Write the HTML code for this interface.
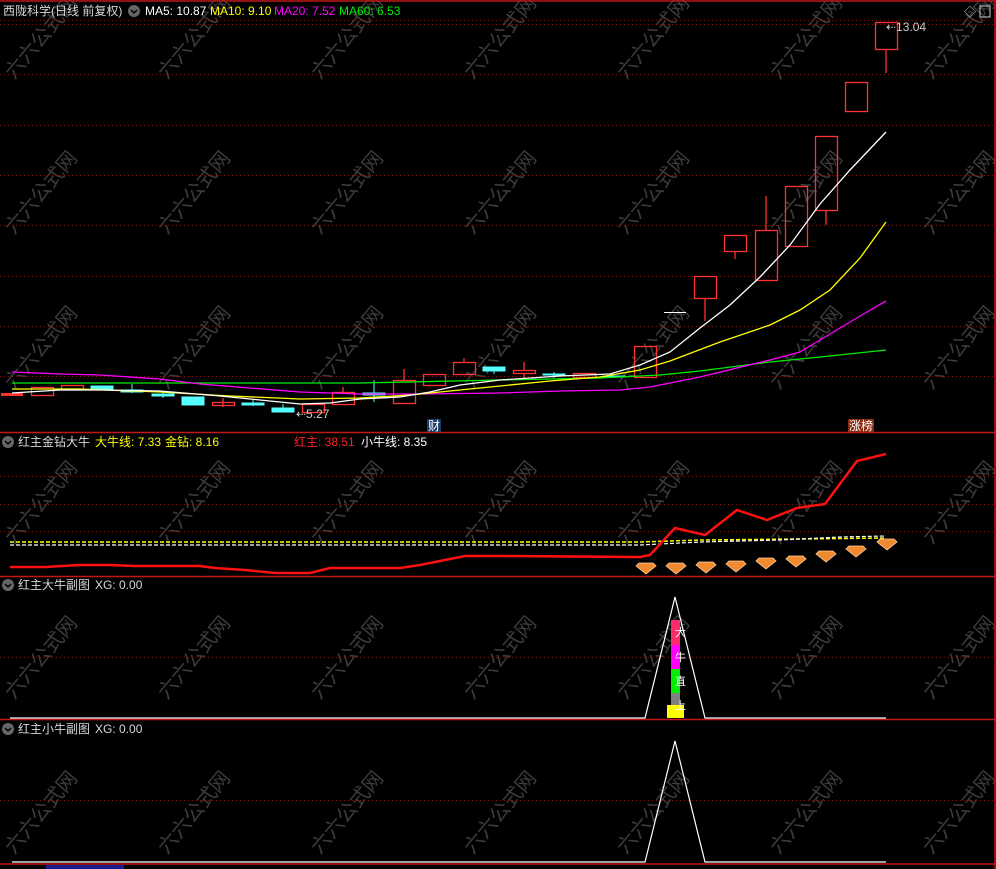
<!DOCTYPE html>
<html><head><meta charset="utf-8"><style>
html,body{margin:0;padding:0;background:#000;width:996px;height:869px;overflow:hidden}
svg{display:block}
text{font-family:"Liberation Sans","Noto Sans CJK SC",sans-serif}
</style></head><body>
<svg width="996" height="869" viewBox="0 0 996 869" xmlns="http://www.w3.org/2000/svg">
<rect width="996" height="869" fill="#000"/>
<!-- watermarks -->
<g fill="#3c3c3c" font-size="20" font-family="Noto Sans CJK SC,sans-serif">
<g id="wmrow">
<text transform="translate(14,80) rotate(-50)">六六公式网</text>
<text transform="translate(167,80) rotate(-50)">六六公式网</text>
<text transform="translate(320,80) rotate(-50)">六六公式网</text>
<text transform="translate(473,80) rotate(-50)">六六公式网</text>
<text transform="translate(626,80) rotate(-50)">六六公式网</text>
<text transform="translate(779,80) rotate(-50)">六六公式网</text>
<text transform="translate(932,80) rotate(-50)">六六公式网</text>
</g>
<use href="#wmrow" y="155"/><use href="#wmrow" y="310"/><use href="#wmrow" y="465"/><use href="#wmrow" y="620"/><use href="#wmrow" y="775"/>
</g>
<!-- grid -->
<g stroke="#8a1010" stroke-width="1" stroke-dasharray="1,3">
<line x1="0" y1="24.5" x2="994" y2="24.5"/><line x1="0" y1="74.5" x2="994" y2="74.5"/>
<line x1="0" y1="125.5" x2="994" y2="125.5"/><line x1="0" y1="175.5" x2="994" y2="175.5"/>
<line x1="0" y1="225.5" x2="994" y2="225.5"/><line x1="0" y1="276.5" x2="994" y2="276.5"/>
<line x1="0" y1="326.5" x2="994" y2="326.5"/><line x1="0" y1="376.5" x2="994" y2="376.5"/>
<line x1="0" y1="476.5" x2="994" y2="476.5"/><line x1="0" y1="504.5" x2="994" y2="504.5"/>
<line x1="0" y1="531.5" x2="994" y2="531.5"/><line x1="0" y1="657.5" x2="994" y2="657.5"/>
<line x1="0" y1="800.5" x2="994" y2="800.5"/>
</g>
<!-- panel borders -->
<g stroke="#c01818" stroke-width="1.5">
<line x1="0" y1="1" x2="996" y2="1"/>
<line x1="0" y1="432.5" x2="996" y2="432.5"/>
<line x1="0" y1="576.5" x2="996" y2="576.5"/>
<line x1="0" y1="719.5" x2="996" y2="719.5"/>
<line x1="0" y1="864" x2="996" y2="864"/>
<line x1="995" y1="0" x2="995" y2="869"/>
</g>
<!-- candles -->
<g stroke="#ff3232" fill="none" stroke-width="1.3">
<rect x="31.5" y="387.5" width="22" height="8"/>
<rect x="61.5" y="385.5" width="22" height="4"/>
<rect x="212.5" y="402.5" width="22" height="3"/><line x1="223" y1="398" x2="223" y2="407"/>
<rect x="302.5" y="404.5" width="22" height="8"/>
<rect x="332.5" y="392.5" width="22" height="12"/><line x1="343" y1="387" x2="343" y2="392"/>
<rect x="393.5" y="380.5" width="22" height="23"/><line x1="404" y1="369" x2="404" y2="380"/><line x1="404" y1="403" x2="404" y2="404"/>
<rect x="423.5" y="374.5" width="22" height="11"/>
<rect x="453.5" y="362.5" width="22" height="12"/><line x1="464" y1="358" x2="464" y2="362"/>
<rect x="513.5" y="370.5" width="22" height="3"/><line x1="524" y1="362" x2="524" y2="370"/><line x1="524" y1="374" x2="524" y2="379"/>
<rect x="573.5" y="373.5" width="22" height="4"/>
<rect x="634.5" y="346.5" width="22" height="31"/>
<rect x="694.5" y="276.5" width="22" height="22"/><line x1="705" y1="298" x2="705" y2="321"/>
<rect x="724.5" y="235.5" width="22" height="16"/><line x1="735" y1="251" x2="735" y2="259"/>
<rect x="755.5" y="230.5" width="22" height="50"/><line x1="766" y1="196" x2="766" y2="230"/>
<rect x="785.5" y="186.5" width="22" height="60"/>
<rect x="815.5" y="136.5" width="22" height="74"/><line x1="826" y1="210" x2="826" y2="225"/>
<rect x="845.5" y="82.5" width="22" height="29"/>
<rect x="875.5" y="22.5" width="22" height="27"/><line x1="886" y1="49" x2="886" y2="73"/>
</g>
<rect x="1" y="393" width="22" height="3" fill="#ff3232"/>
<g fill="#55ffff" stroke="#55ffff">
<rect x="91" y="386" width="22" height="4"/>
<rect x="121" y="390" width="22" height="2"/><line x1="132" y1="384" x2="132" y2="393"/>
<rect x="152" y="394" width="22" height="2"/><line x1="163" y1="392" x2="163" y2="398"/>
<rect x="182" y="397" width="22" height="8"/>
<rect x="242" y="403" width="22" height="2"/><line x1="253" y1="400" x2="253" y2="406"/>
<rect x="272" y="408" width="22" height="4"/><line x1="283" y1="404" x2="283" y2="408"/>
<rect x="363" y="393" width="22" height="2"/><line x1="374" y1="380" x2="374" y2="402"/>
<rect x="483" y="367" width="22" height="4"/><line x1="494" y1="371" x2="494" y2="374"/>
<rect x="543" y="374" width="22" height="1"/><line x1="554" y1="372" x2="554" y2="378"/>
<rect x="603" y="376" width="22" height="1"/>
</g>
<line x1="664" y1="312.5" x2="686" y2="312.5" stroke="#fff"/>
<!-- MA lines -->
<g fill="none" stroke-width="1.3">
<polyline stroke="#00ee00" points="12,383 360,383 500,380 600,378 660,375 700,371 770,362 830,356 886,350"/>
<polyline stroke="#ff00ff" points="12,372 60,374 100,375 160,379 200,384 250,388 300,392 360,394 420,394 500,393 560,391 620,390 650,387 700,377 770,360 800,352 830,334 860,316 886,301"/>
<polyline stroke="#ffff00" points="12,389 80,389 160,392 230,396 300,399 360,398 410,395 480,388 550,381 600,377 640,370 670,361 720,342 770,325 800,310 830,290 860,258 886,222"/>
<polyline stroke="#ffffff" points="12,393 60,390 100,390 160,391 220,396 270,401 300,404 330,403 360,399 400,397 430,392 460,385 500,380 560,376 610,374 640,365 670,352 700,328 730,305 760,277 790,245 820,204 850,170 886,132"/>
</g>
<!-- labels main -->
<text x="296" y="418" fill="#cccccc" font-size="12">⇠5.27</text>
<text x="886" y="31" fill="#cccccc" font-size="12">⇠13.04</text>
<rect x="427" y="419" width="14" height="13" fill="#1c3a6a"/>
<text x="428" y="430" fill="#fff" font-size="12" font-family="Noto Sans CJK SC,sans-serif">财</text>
<rect x="848" y="419" width="26" height="13" fill="#8a2a10"/>
<text x="849" y="430" fill="#fff" font-size="12" font-family="Noto Sans CJK SC,sans-serif">涨榜</text>
<text x="964" y="16" fill="#ccc" font-size="12">◇</text>
<rect x="980" y="6" width="10" height="11" fill="none" stroke="#ccc"/>
<!-- header -->
<g font-size="12">
<text x="3" y="15" fill="#d8d8d8">西陇科学(日线 前复权)</text>
<circle cx="134" cy="11" r="6" fill="#666"/><path d="M131,10 l3,3 l3,-3" stroke="#000" fill="none" stroke-width="1.5"/>
<text x="145" y="15" fill="#fff">MA5: 10.87</text>
<text x="210" y="15" fill="#ffff00">MA10: 9.10</text>
<text x="274" y="15" fill="#ff00ff">MA20: 7.52</text>
<text x="339" y="15" fill="#00ee00">MA60: 6.53</text>
</g>
<line x1="0" y1="20.5" x2="994" y2="20.5" stroke="#8a1010" stroke-dasharray="1,3"/>
<!-- panel2 -->
<g font-size="12">
<circle cx="8" cy="442" r="6" fill="#666"/><path d="M5,441 l3,3 l3,-3" stroke="#000" fill="none" stroke-width="1.5"/>
<text x="18" y="446" fill="#d8d8d8">红主金钻大牛</text>
<text x="95" y="446" fill="#ffff00">大牛线: 7.33</text>
<text x="165" y="446" fill="#ffff00">金钻: 8.16</text>
<text x="294" y="446" fill="#ff2020">红主: 38.51</text>
<text x="361" y="446" fill="#fff">小牛线: 8.35</text>
</g>
<polyline fill="none" stroke="#ffff00" stroke-width="1.5" stroke-dasharray="4,2" points="10,542 640,542 700,540 800,539 886,538"/>
<polyline fill="none" stroke="#fff" stroke-width="1.2" stroke-dasharray="4,2" points="10,545 640,545 700,542 780,540 840,537 886,536"/>
<polyline fill="none" stroke="#ff1010" stroke-width="2.5" points="10,567 45,567 80,565 110,565 135,566 200,566 215,568 245,570 275,573 310,573 330,568 400,568 420,565 465,556 500,556 640,557 650,555 675,528 705,535 737,510 767,520 797,508 825,504 857,461 886,454"/>
<g fill="#f08a30" stroke="#ffd0a0" stroke-width="0.8">
<path d="M639,563 h14 l3,3 l-10,8 l-10,-8 z"/>
<path d="M669,563 h14 l3,3 l-10,8 l-10,-8 z"/>
<path d="M699,562 h14 l3,3 l-10,8 l-10,-8 z"/>
<path d="M729,561 h14 l3,3 l-10,8 l-10,-8 z"/>
<path d="M759,558 h14 l3,3 l-10,8 l-10,-8 z"/>
<path d="M789,556 h14 l3,3 l-10,8 l-10,-8 z"/>
<path d="M819,551 h14 l3,3 l-10,8 l-10,-8 z"/>
<path d="M849,546 h14 l3,3 l-10,8 l-10,-8 z"/>
<path d="M880,539 h14 l3,3 l-10,8 l-10,-8 z"/>
</g>
<!-- panel3 -->
<g font-size="12">
<circle cx="8" cy="585" r="6" fill="#666"/><path d="M5,584 l3,3 l3,-3" stroke="#000" fill="none" stroke-width="1.5"/>
<text x="18" y="589" fill="#d8d8d8">红主大牛副图</text>
<text x="95" y="589" fill="#d8d8d8">XG: 0.00</text>
</g>
<rect x="671" y="620" width="9" height="25" fill="#ff2a6a"/>
<rect x="671" y="645" width="9" height="24" fill="#ff00ff"/>
<rect x="671" y="669" width="9" height="24" fill="#00ee00"/>
<rect x="671" y="693" width="9" height="12" fill="#808080"/>
<rect x="667" y="705" width="17" height="13" fill="#ffff00"/>
<g fill="#fff" font-size="11" font-family="Noto Sans CJK SC,sans-serif">
<text x="675" y="636">大</text><text x="675" y="661">牛</text><text x="675" y="685">直</text><text x="675" y="709">上</text>
</g>
<polyline fill="none" stroke="#fff" stroke-width="1.2" points="10,718 645,718 675,597 705,718 886,718"/>
<!-- panel4 -->
<g font-size="12">
<circle cx="8" cy="729" r="6" fill="#666"/><path d="M5,728 l3,3 l3,-3" stroke="#000" fill="none" stroke-width="1.5"/>
<text x="18" y="733" fill="#d8d8d8">红主小牛副图</text>
<text x="95" y="733" fill="#d8d8d8">XG: 0.00</text>
</g>
<polyline fill="none" stroke="#fff" stroke-width="1.2" points="12,862 645,862 675,741 705,862 886,862"/>
<rect x="46" y="865" width="78" height="4" fill="#1a1a8a"/>
</svg>
</body></html>
